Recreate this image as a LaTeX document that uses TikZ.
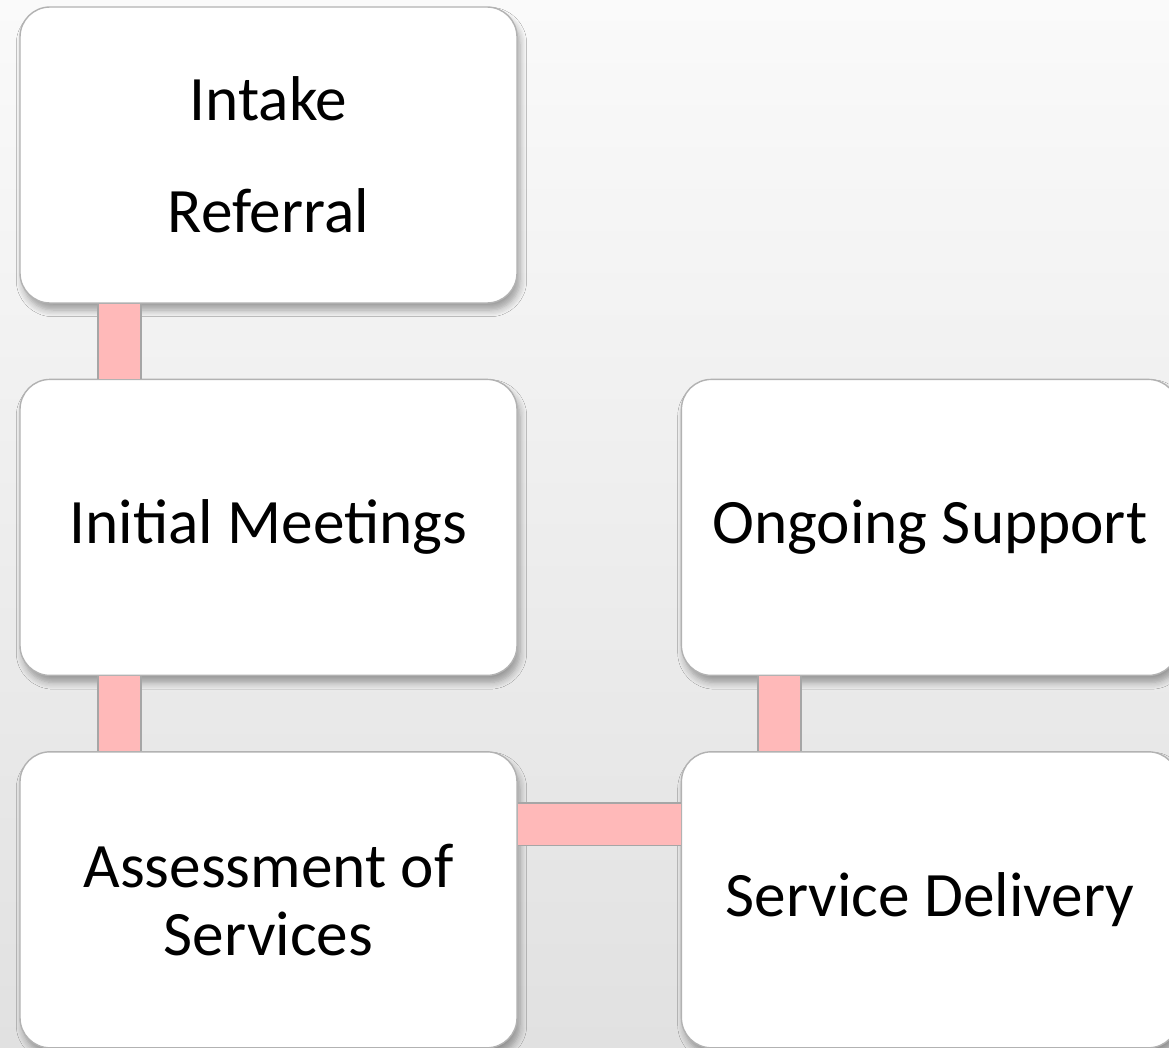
\documentclass[tikz,border=0pt]{standalone}
\usepackage{fontspec}
\setmainfont{Carlito}
\usetikzlibrary{positioning,shadows.blur}

\definecolor{linkpink}{RGB}{255,185,185}
\definecolor{bgtop}{RGB}{250,250,250}
\definecolor{bgbottom}{RGB}{225,225,225}

\begin{document}
\begin{tikzpicture}[
    stepbox/.style = {draw=gray!60, fill=white, rounded corners=0.3cm,
        minimum width=4.97cm, minimum height=2.96cm, align=center,
        font=\fontsize{18}{19.4}\selectfont,
        blur shadow={shadow xshift=0.3mm, shadow yshift=-0.7mm, shadow blur steps=6, shadow opacity=35}},
    link/.style = {draw=gray!70, line width=0.5pt, double=linkpink, double distance=0.41cm}]
% background
\shade[top color=bgtop, bottom color=bgbottom] (0,0) rectangle (11.69,-10.48);
\useasboundingbox (0,0) rectangle (11.69,-10.48);

% boxes
\node[stepbox] (intake) at (2.685,-1.55) {Intake\\[12.5pt]Referral};
\node[stepbox, below=0.75cm of intake] (initial) {Initial Meetings};
\node[stepbox, below=0.75cm of initial] (assess) {Assessment of\\Services};
\node[stepbox, right=1.63cm of assess] (service) {Service Delivery};
\node[stepbox, above=0.75cm of service] (ongoing) {Ongoing Support};

% connectors, edge to edge between the boxes
\draw[link] ([xshift=1cm]intake.south west) -- ([xshift=1cm]initial.north west);
\draw[link] ([xshift=1cm]initial.south west) -- ([xshift=1cm]assess.north west);
\draw[link] ([yshift=-0.73cm]assess.north east) -- ([yshift=-0.73cm]service.north west);
\draw[link] ([xshift=0.99cm]service.north west) -- ([xshift=0.99cm]ongoing.south west);
\end{tikzpicture}
\end{document}
